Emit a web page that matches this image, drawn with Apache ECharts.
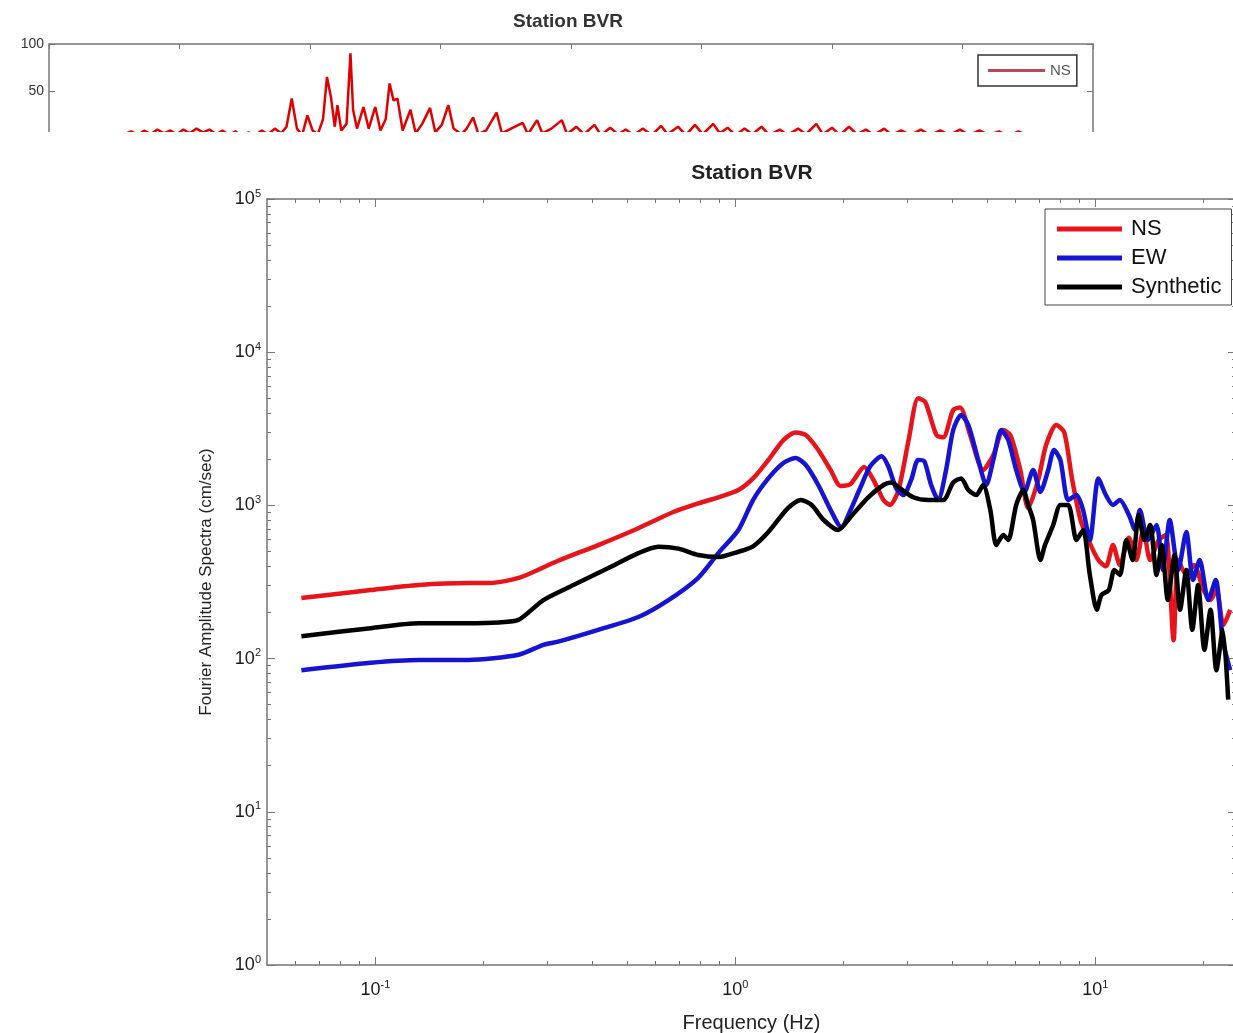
<!DOCTYPE html>
<html><head><meta charset="utf-8">
<script src="https://cdn.jsdelivr.net/npm/echarts@6/dist/echarts.min.js"></script>
<style>html,body{margin:0;padding:0;background:#fff;overflow:hidden}#c{width:1233px;height:1033px}</style>
</head><body><div id="c"></div><script>
// ---- Main spectra (frequency in Hz, amplitude in cm/sec) ----
const freqNS = [0.0623,0.097,0.132,0.181,0.206,0.250,0.322,0.416,0.538,0.673,0.789,0.897,1.02,1.12,1.235,1.36,1.47,1.57,1.70,1.84,1.96,2.09,2.28,2.42,2.58,2.69,2.84,3.03,3.22,3.37,3.62,3.78,4.03,4.21,4.49,4.88,5.21,5.55,5.81,6.19,6.51,6.94,7.30,7.79,8.20,8.63,9.1,9.57,10.2,10.7,11.2,11.7,12.4,13.0,13.6,14.2,15.0,15.7,16.5,17.0,17.9,18.8,20.0,20.9,21.7,22.7,23.7];
const ampNS  = [249,280,302,311,311,336,435,551,710,905,1030,1130,1260,1500,1978,2670,2990,2880,2300,1700,1340,1380,1780,1465,1084,1006,1260,2670,5000,4730,2880,2780,4200,4350,2880,1700,2133,3105,2880,1702,960,1465,2480,3350,3000,1465,803,594,440,400,551,408,615,440,691,440,594,641,132,440,351,408,280,241,280,166,208];
const freqEW = [0.0623,0.097,0.132,0.181,0.250,0.293,0.322,0.416,0.538,0.652,0.789,0.897,1.02,1.12,1.235,1.36,1.47,1.57,1.70,1.84,1.97,2.09,2.22,2.37,2.55,2.66,2.80,2.93,3.08,3.22,3.35,3.50,3.66,3.85,4.03,4.24,4.44,4.73,4.98,5.21,5.48,5.73,6.03,6.36,6.72,7.04,7.40,7.68,8.00,8.41,8.87,9.25,9.66,10.2,10.7,11.2,11.7,12.4,12.9,13.3,14.0,14.8,15.4,16.1,17.0,17.9,18.7,19.5,20.6,21.6,22.6,23.7];
const ampEW  = [84,94,98,98,106,123,129,154,187,241,337,488,691,1084,1500,1890,2040,1835,1359,933,720,933,1290,1800,2090,1800,1290,1169,1465,1978,1940,1359,1084,1702,3105,3890,3350,1978,1359,1978,3105,2670,1702,1225,1702,1225,1702,2300,1978,1084,1169,933,594,1500,1169,1006,1084,865,691,933,594,745,379,803,379,670,326,440,241,326,132,84];
const freqSyn = [0.0623,0.097,0.132,0.181,0.220,0.250,0.293,0.355,0.444,0.538,0.611,0.695,0.789,0.897,1.02,1.12,1.235,1.40,1.52,1.63,1.76,1.93,2.09,2.34,2.58,2.71,2.87,3.12,3.44,3.78,4.03,4.24,4.44,4.67,4.88,5.11,5.31,5.55,5.73,6.03,6.31,6.51,6.72,7.04,7.25,7.64,8.00,8.41,8.87,9.25,9.66,10.1,10.4,10.9,11.3,11.7,12.2,12.7,13.2,13.7,14.2,14.8,15.3,15.9,16.6,17.2,17.9,18.6,19.3,20.1,20.9,21.7,22.6,23.4];
const ampSyn  = [140,158,170,170,172,179,241,302,390,488,537,522,474,460,498,540,670,960,1084,1006,803,691,840,1130,1359,1410,1290,1130,1084,1084,1410,1500,1260,1169,1359,933,551,641,594,1006,1260,1006,803,440,551,745,1006,1006,594,691,351,208,260,280,379,351,594,440,865,594,745,351,551,241,474,208,379,154,302,114,208,84,154,54];

// ---- Upper (clipped) panel: NS record ----
const timeNS = [0,5,5.8,6.3,6.8,7.3,7.8,8.3,8.8,9.3,9.8,10.3,10.8,11.3,11.8,12.3,12.8,13.3,13.8,14.3,14.8,15.3,15.8,16.3,16.8,17.3,17.8,18.2,18.6,19.0,19.4,19.8,20.2,20.6,21.0,21.3,21.6,21.9,22.1,22.4,22.8,23.1,23.3,23.6,24.1,24.5,25.0,25.4,25.8,26.1,26.4,26.7,27.1,27.7,28.1,28.6,29.2,29.6,30.1,30.6,31.0,31.6,32.0,32.5,32.9,33.5,34.3,34.7,35.4,36.3,36.7,37.4,37.8,38.5,39.3,39.7,40.4,41.0,41.8,42.3,43.0,43.6,44.2,44.8,45.5,46.2,46.9,47.4,48.2,48.8,49.5,50.1,50.9,51.4,52.0,52.6,53.3,53.9,54.6,55.2,56.0,56.6,57.4,58.0,58.8,59.3,60.0,60.6,61.3,61.9,62.6,63.2,64.0,64.6,65.3,66.0,66.8,67.5,68.3,69.0,69.8,70.5,71.3,72.0,72.8,73.5,74.3,75.0,76.0,77,80];
const valNS  = [0,0,4,7,3,8,4,9,5,8,4,9,5,10,6,9,4,8,3,7,2,6,3,8,4,10,5,12,42,10,3,24,8,4,20,65,44,12,35,8,15,90,30,10,33,10,33,8,20,58,40,42,8,30,5,15,32,6,14,35,10,4,10,22,4,8,27,5,10,16,4,19,5,10,19,4,12,4,14,3,11,4,9,3,10,3,13,4,12,3,14,4,15,5,11,3,10,4,12,3,9,3,10,4,15,4,11,3,12,4,9,3,10,3,8,3,9,3,8,3,9,3,8,3,7,2,7,2,5,0,0];

// ---- Tick values ----
const xMajorTicks = [0.1, 1, 10];
const xMinorTicks = [0.06,0.07,0.08,0.09,0.2,0.3,0.4,0.5,0.6,0.7,0.8,0.9,2,3,4,5,6,7,8,9,20];
const yMajorTicks = [1, 10, 100, 1000, 10000, 100000];
const yMinorTicks = [2,3,4,5,6,7,8,9,20,30,40,50,60,70,80,90,200,300,400,500,600,700,800,900,2000,3000,4000,5000,6000,7000,8000,9000,20000,30000,40000,50000,60000,70000,80000,90000];
const seriesNames = ['NS', 'EW', 'Synthetic'];
const seriesColors = ['#e8141c', '#1414d2', '#000000'];

const FONT = 'Liberation Sans, Arial, sans-serif';
const AX = '#767676';
const pairs = (a, b) => a.map((v, i) => [v, b[i]]);
const pow10 = v => { const e = Math.round(Math.log10(v)); return '{b|10}{s|' + e + '}'; };
const rich = {
  b: {fontSize: 18, fontFamily: FONT, color: '#1a1a1a', lineHeight: 22},
  s: {fontSize: 11, fontFamily: FONT, color: '#1a1a1a', verticalAlign: 'top', lineHeight: 12}
};

const XMIN = 0.05, XMAX = 24.6, YMIN = 1, YMAX = 100000;
function logX(pos, ticks, len, withLine, withLabel, extra) {
  return Object.assign({
    type: 'log', logBase: 10, gridIndex: 1, position: pos, min: XMIN, max: XMAX, z: 20,
    axisLine: {show: withLine, onZero: false, lineStyle: {color: AX, width: 1.5}},
    axisTick: {show: true, inside: true, length: len, customValues: ticks, lineStyle: {color: AX}},
    axisLabel: withLabel ? {show: true, customValues: xMajorTicks, formatter: pow10, rich: rich, margin: 14} : {show: false},
    splitLine: {show: false}, minorTick: {show: false}
  }, extra || {});
}
function logY(pos, ticks, len, withLine, withLabel, extra) {
  return Object.assign({
    type: 'log', logBase: 10, gridIndex: 1, position: pos, min: YMIN, max: YMAX, z: 20,
    axisLine: {show: withLine, onZero: false, lineStyle: {color: AX, width: 1.5}},
    axisTick: {show: true, inside: true, length: len, customValues: ticks, lineStyle: {color: AX}},
    axisLabel: withLabel ? {show: true, customValues: yMajorTicks, formatter: pow10, rich: rich, margin: 6} : {show: false},
    splitLine: {show: false}, minorTick: {show: false}
  }, extra || {});
}

const chart = echarts.init(document.getElementById('c'), null, {renderer: 'canvas'});
const mainSeries = [pairs(freqNS, ampNS), pairs(freqEW, ampEW), pairs(freqSyn, ampSyn)].map((d, i) => ({
  name: seriesNames[i], type: 'line', xAxisIndex: 0, yAxisIndex: 0, data: d,
  showSymbol: false, symbol: 'none', smooth: 0.25, z: 20 + i,
  lineStyle: {color: seriesColors[i], width: 4.5}, itemStyle: {color: seriesColors[i]}
}));

chart.setOption({
  backgroundColor: '#ffffff',
  animation: false,
  title: [
    {text: 'Station BVR', left: 568, top: 12, textAlign: 'center', padding: 0,
     textStyle: {fontSize: 19, fontWeight: 'bold', fontFamily: FONT, color: '#333'}},
    {text: 'Station BVR', left: 752, top: 163, textAlign: 'center', padding: 0, z: 30,
     textStyle: {fontSize: 21, fontWeight: 'bold', fontFamily: FONT, color: '#222'}}
  ],
  legend: [
    {data: ['NS-record'], formatter: () => 'NS', left: 978, top: 55, orient: 'horizontal', icon: 'rect',
     itemWidth: 57, itemHeight: 3, padding: [8, 6, 8, 10], borderColor: '#333', borderWidth: 1.5,
     itemStyle: {color: '#b8485a'}, textStyle: {fontSize: 15, color: '#555', fontFamily: FONT}, selectedMode: false},
    {data: seriesNames, left: 1045, top: 209, orient: 'vertical', icon: 'rect', itemWidth: 65, itemHeight: 5,
     itemGap: 7, padding: [9, 10, 7, 12], borderColor: '#444', borderWidth: 1, backgroundColor: '#fff', z: 30,
     selectedMode: false,
     textStyle: {fontSize: 22, lineHeight: 22, color: '#111', fontFamily: FONT, padding: [0, 0, 0, 4]}}
  ],
  graphic: [
    {type: 'rect', shape: {x: 0, y: 132, width: 1233, height: 901}, style: {fill: '#ffffff'}, z: 10, silent: true}
  ],
  grid: [
    {left: 49, top: 44, width: 1044, height: 94, outerBoundsMode: 'none', containLabel: false},
    {left: 267, top: 199, right: -3, height: 766, outerBoundsMode: 'none', containLabel: false}
  ],
  xAxis: [
    logX('bottom', xMajorTicks, 8, true, true, {name: 'Frequency (Hz)', nameLocation: 'middle', nameGap: 48,
      nameTextStyle: {fontSize: 20, fontFamily: FONT, color: '#222'}}),
    logX('bottom', xMinorTicks, 4, false, false),
    logX('top', xMajorTicks, 8, true, false),
    logX('top', xMinorTicks, 4, false, false),
    {type: 'value', gridIndex: 0, position: 'bottom', min: 0, max: 80, interval: 10,
     axisLine: {show: true, onZero: false, lineStyle: {color: AX, width: 1.5}}, axisTick: {show: false},
     axisLabel: {show: false}, splitLine: {show: false}},
    {type: 'value', gridIndex: 0, position: 'top', min: 0, max: 80, interval: 10,
     axisLine: {show: true, onZero: false, lineStyle: {color: AX, width: 1.5}},
     axisTick: {show: true, inside: true, length: 5, lineStyle: {color: AX}},
     axisLabel: {show: false}, splitLine: {show: false}}
  ],
  yAxis: [
    logY('left', yMajorTicks, 8, true, true, {name: 'Fourier Amplitude Spectra (cm/sec)', nameLocation: 'middle',
      nameGap: 52, nameRotate: 90, nameTextStyle: {fontSize: 17, fontFamily: FONT, color: '#222'}}),
    logY('left', yMinorTicks, 4, false, false),
    logY('right', yMajorTicks, 8, true, false),
    logY('right', yMinorTicks, 4, false, false),
    {type: 'value', gridIndex: 0, position: 'left', min: 0, max: 100, interval: 50,
     axisLine: {show: true, onZero: false, lineStyle: {color: AX, width: 1.5}},
     axisTick: {show: true, inside: true, length: 6, lineStyle: {color: AX}},
     axisLabel: {show: true, margin: 5, fontSize: 14, fontFamily: FONT, color: '#333'}, splitLine: {show: false}},
    {type: 'value', gridIndex: 0, position: 'right', min: 0, max: 100, interval: 50,
     axisLine: {show: true, onZero: false, lineStyle: {color: AX, width: 1.5}},
     axisTick: {show: true, inside: true, length: 6, lineStyle: {color: AX}},
     axisLabel: {show: false}, splitLine: {show: false}}
  ],
  series: [
    {name: 'NS-record', type: 'line', xAxisIndex: 4, yAxisIndex: 4, data: pairs(timeNS, valNS),
     showSymbol: false, symbol: 'none', z: 2, lineStyle: {color: '#e00000', width: 2.5}, itemStyle: {color: '#e00000'}}
  ].concat(mainSeries)
});
</script></body></html>
